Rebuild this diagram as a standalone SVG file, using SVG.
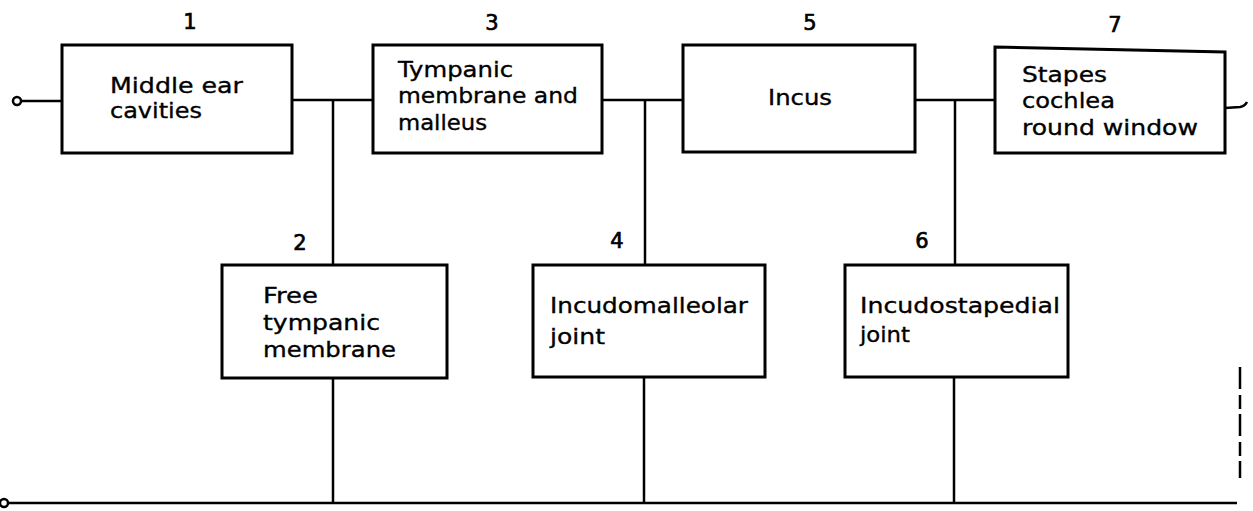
<svg xmlns="http://www.w3.org/2000/svg" width="1253" height="511" viewBox="0 0 1253 511">
<style>
.box{fill:#fff;stroke:#000;stroke-width:3}
.wire{fill:none;stroke:#000;stroke-width:2.5}
.t{font-family:"DejaVu Sans",Verdana,sans-serif;font-size:22px;fill:#000;stroke:#000;stroke-width:0.35}
.n{font-family:"DejaVu Sans",Verdana,sans-serif;font-size:21px;fill:#000;stroke:#000;stroke-width:0.7;text-anchor:middle}
</style>
<rect width="1253" height="511" fill="#fff"/>
<g id="connectors">
<circle cx="17" cy="101" r="4" class="wire"/>
<line x1="21" y1="101" x2="62" y2="101" class="wire"/>
<line x1="292" y1="100" x2="373" y2="100" class="wire"/>
<line x1="602" y1="100" x2="683" y2="100" class="wire"/>
<line x1="915" y1="100" x2="995" y2="100" class="wire"/>
<line x1="333" y1="100" x2="333" y2="265" class="wire"/>
<line x1="645" y1="100" x2="645" y2="265" class="wire"/>
<line x1="955" y1="100" x2="955" y2="265" class="wire"/>
<line x1="333" y1="378" x2="333" y2="503" class="wire"/>
<line x1="644" y1="377" x2="644" y2="503" class="wire"/>
<line x1="954" y1="377" x2="954" y2="503" class="wire"/>
<circle cx="4" cy="503" r="4" class="wire"/>
<line x1="8" y1="503" x2="1237" y2="503" class="wire"/>
<path d="M1225 108 L1240 107 Q1245 106 1247 102" class="wire"/>
<line x1="1240" y1="367" x2="1240" y2="478" class="wire" stroke-width="1.5" stroke-dasharray="22 6 14 5"/>
</g>
<g id="node1">
<rect x="62" y="45" width="230" height="108" class="box"/>
<text class="t" x="110" y="93" textLength="133" lengthAdjust="spacingAndGlyphs">Middle ear</text>
<text class="t" x="110" y="118" textLength="92" lengthAdjust="spacingAndGlyphs">cavities</text>
<text class="n" x="190" y="29">1</text>
</g>
<g id="node3">
<rect x="373" y="45" width="229" height="108" class="box"/>
<text class="t" x="398" y="77" textLength="115" lengthAdjust="spacingAndGlyphs">Tympanic</text>
<text class="t" x="398" y="103" textLength="180" lengthAdjust="spacingAndGlyphs">membrane and</text>
<text class="t" x="398" y="130" textLength="89" lengthAdjust="spacingAndGlyphs">malleus</text>
<text class="n" x="492" y="30">3</text>
</g>
<g id="node5">
<rect x="683" y="45" width="232" height="107" class="box"/>
<text class="t" x="768" y="105" textLength="64" lengthAdjust="spacingAndGlyphs">Incus</text>
<text class="n" x="810" y="30">5</text>
</g>
<g id="node7">
<path d="M995 47 L1225 52 L1225 153 L995 153 Z" class="box"/>
<text class="t" x="1022" y="82" textLength="85" lengthAdjust="spacingAndGlyphs">Stapes</text>
<text class="t" x="1022" y="108" textLength="93" lengthAdjust="spacingAndGlyphs">cochlea</text>
<text class="t" x="1022" y="135" textLength="176" lengthAdjust="spacingAndGlyphs">round window</text>
<text class="n" x="1115" y="32">7</text>
</g>
<g id="node2">
<rect x="222" y="265" width="225" height="113" class="box"/>
<text class="t" x="263" y="303" textLength="55" lengthAdjust="spacingAndGlyphs">Free</text>
<text class="t" x="263" y="330" textLength="117" lengthAdjust="spacingAndGlyphs">tympanic</text>
<text class="t" x="263" y="357" textLength="133" lengthAdjust="spacingAndGlyphs">membrane</text>
<text class="n" x="300" y="250">2</text>
</g>
<g id="node4">
<rect x="533" y="265" width="232" height="112" class="box"/>
<text class="t" x="550" y="313" textLength="198" lengthAdjust="spacingAndGlyphs">Incudomalleolar</text>
<text class="t" x="550" y="344" textLength="55" lengthAdjust="spacingAndGlyphs">joint</text>
<text class="n" x="617" y="248">4</text>
</g>
<g id="node6">
<rect x="845" y="265" width="223" height="112" class="box"/>
<text class="t" x="860" y="313" textLength="200" lengthAdjust="spacingAndGlyphs">Incudostapedial</text>
<text class="t" x="860" y="342" textLength="50" lengthAdjust="spacingAndGlyphs">joint</text>
<text class="n" x="922" y="248">6</text>
</g>
</svg>
